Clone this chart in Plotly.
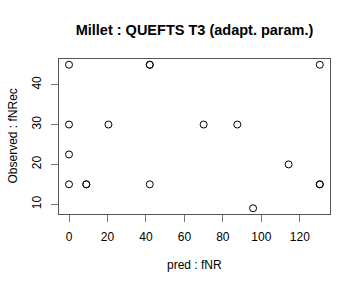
import plotly.graph_objects as go

pred_fNR = [0, 0, 0, 0, 9, 9, 20.5, 42, 42, 42, 70, 87.5, 95.7, 114.2, 130.4, 130.4, 130.4]
obs_fNRec = [45, 30, 22.5, 15, 15, 15, 30, 45, 45, 15, 30, 30, 9, 20, 45, 15, 15]
x_ticks = [0, 20, 40, 60, 80, 100, 120]
y_ticks = [10, 20, 30, 40]

FONT = "Liberation Sans, Arial"
L, R, T, B = 59, 30, 59, 74
W, H = 360, 288

fig = go.Figure()
fig.add_trace(go.Scatter(
    x=pred_fNR, y=obs_fNRec, mode="markers",
    marker=dict(symbol="circle-open", size=7, color="black", line=dict(width=1)),
    showlegend=False,
))

axis_common = dict(
    showgrid=False, zeroline=False, showline=True, mirror=True,
    linecolor="#555", linewidth=1, ticks="outside", ticklen=7,
    tickcolor="#777", tickwidth=1, ticklabelstandoff=5, automargin=False,
    tickfont=dict(family=FONT, size=12, color="black"),
)

fig.update_layout(
    width=W, height=H,
    margin=dict(l=L, r=R, t=T, b=B),
    paper_bgcolor="white", plot_bgcolor="white",
    title=dict(text="<b>Millet : QUEFTS T3 (adapt. param.)</b>",
               x=(L + W - R) / 2 / W, xanchor="center", y=1 - 30 / H, yanchor="middle",
               font=dict(family=FONT, size=14.5, color="black")),
    xaxis=dict(axis_common, range=[-5.2, 135.7], tickvals=x_ticks),
    yaxis=dict(axis_common, range=[7.56, 46.44], tickvals=y_ticks, tickangle=-90),
    annotations=[
        dict(text="pred : fNR", xref="paper", yref="paper",
             x=0.5, y=-(265 - (H - B)) / (H - T - B), xanchor="center", yanchor="middle",
             showarrow=False, font=dict(family=FONT, size=12, color="black")),
        dict(text="Observed : fNRec", xref="paper", yref="paper", textangle=-90,
             x=-(L - 12) / (W - L - R), y=0.5, xanchor="center", yanchor="middle",
             showarrow=False, font=dict(family=FONT, size=12, color="black")),
    ],
)

fig.write_html("out.html")
